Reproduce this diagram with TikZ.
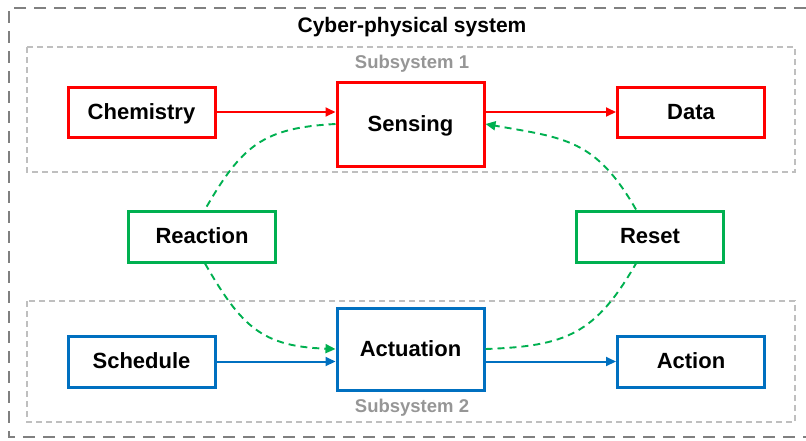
\documentclass[tikz,border=0pt]{standalone}
\usepackage{fontspec}
\setmainfont{Liberation Sans}
\usetikzlibrary{arrows.meta,calc}
\definecolor{cred}{HTML}{FF0000}
\definecolor{cblue}{HTML}{0070C0}
\definecolor{cgreen}{HTML}{00B050}
\definecolor{cgrayA}{HTML}{808080}
\definecolor{cgrayB}{HTML}{BFBFBF}
\definecolor{cgrayT}{HTML}{969696}
\tikzset{
  box/.style={draw, line width=3pt, fill=white, minimum width=147pt, inner sep=0pt,
    text height=14pt, text depth=0pt,
    font=\fontsize{22}{26}\selectfont\bfseries},
  redbox/.style={box, draw=cred},
  bluebox/.style={box, draw=cblue},
  greenbox/.style={box, draw=cgreen},
  tip/.style={-{Triangle[length=10pt,width=9pt]}},
  redarrow/.style={tip, draw=cred, line width=2pt},
  bluearrow/.style={tip, draw=cblue, line width=2pt},
  greenline/.style={draw=cgreen, line width=1.9pt, dash pattern=on 7pt off 5pt},
  greenarrow/.style={greenline, tip},
  subsys/.style={draw=cgrayB, line width=1.3pt, dash pattern=on 6pt off 4pt},
  subtitle/.style={text=cgrayT, font=\fontsize{18.5}{22}\selectfont\bfseries},
}
\begin{document}
\begin{tikzpicture}[x=1pt,y=-1pt]
\useasboundingbox (0,0) rectangle (806,440);
% outer frame
\draw[cgrayA, line width=2.6pt, dash pattern=on 12pt off 8pt] (806,8) -- (9,8) -- (9,437) -- (806,437);
\node[font=\fontsize{21}{25}\selectfont\bfseries] (title) at (412,27) {Cyber-physical system};
% subsystems
\draw[subsys] (27,47) rectangle (795,172);
\draw[subsys] (27,301) rectangle (795,422);
\node[subtitle] (s1) at (412,64) {Subsystem 1};
\node[subtitle] (s2) at (412,408) {Subsystem 2};
% nodes
\node[redbox, minimum height=50pt] (chem) at (141.5,112) {Chemistry};
\node[redbox, minimum height=84pt] (sens) at (410.5,124) {Sensing};
\node[redbox, minimum height=50pt] (data) at (691,112) {Data};
\node[bluebox, minimum height=51pt] (sched) at (141.5,361.5) {Schedule};
\node[bluebox, minimum height=82pt] (act) at (410.5,349) {Actuation};
\node[bluebox, minimum height=51pt] (action) at (691,361.5) {Action};
\node[greenbox, minimum height=51pt] (react) at (202,236.5) {Reaction};
\node[greenbox, minimum height=51pt] (reset) at (650,236.5) {Reset};
% arrows
\draw[redarrow] (chem.east) -- (chem.east -| sens.west);
\draw[redarrow] (sens.east |- data.west) -- (data.west);
\draw[bluearrow] (sched.east) -- (sched.east -| act.west);
\draw[bluearrow] (act.east |- action.west) -- (action.west);
% green loop
\draw[greenline] (sens.west) to[out=183,in=60,looseness=1.2] ($(react.north)+(3,0)$);
\draw[greenarrow] ($(react.south)+(3,0)$) to[out=-60,in=178,looseness=1.2] (act.west);
\draw[greenline] (act.east) to[out=2,in=-120,looseness=1.2] ($(reset.south)+(-14,0)$);
\draw[greenarrow] ($(reset.north)+(-14,0)$) to[out=120,in=-10,looseness=1.2] (sens.east);
\end{tikzpicture}
\end{document}
